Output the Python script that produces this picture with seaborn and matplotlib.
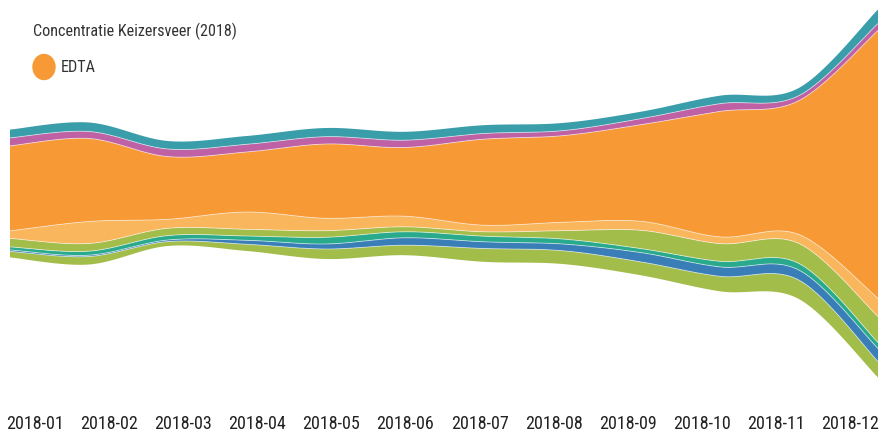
import numpy as np
import matplotlib
matplotlib.use("Agg")
import matplotlib.pyplot as plt
from matplotlib.patches import Ellipse
import seaborn as sns

sns.set_style("white")
plt.rcParams["font.family"] = ["Roboto Condensed", "Liberation Sans Narrow", "Roboto", "DejaVu Sans"]

# data (arbitrary units), bottom layer first
months = ["2018-01", "2018-02", "2018-03", "2018-04", "2018-05", "2018-06",
          "2018-07", "2018-08", "2018-09", "2018-10", "2018-11", "2018-12"]
green_low = [6, 8, 4.4, 6.7, 10, 10, 13.3, 13.3, 13.4, 15, 19, 16]
blue = [1.5, 1.3, 1.6, 4, 5, 7.4, 6.7, 6.7, 9.3, 9.4, 10, 13]
teal_green = [3, 4, 4.4, 4.3, 6.7, 6, 5.6, 5, 4, 5.6, 6.6, 6]
green = [8.5, 7.7, 7.3, 6.7, 6.6, 5, 4.4, 8.3, 18.3, 17.7, 20, 26]
light_orange = [7.5, 22, 9, 17.3, 12.4, 10.6, 6.6, 8.4, 9, 6.7, 9, 18]
edta = [85, 83, 62.7, 60, 74.3, 68.7, 86, 86.6, 96.7, 125.6, 134, 268]
magenta = [8, 7, 7.6, 7.7, 7.3, 7.3, 5.7, 5, 6, 7.7, 5, 7]
teal = [8.3, 9, 8, 8.3, 8.7, 8.4, 8.3, 7.7, 7, 8, 7.7, 14]

layers = [green_low, blue, teal_green, green, light_orange, edta, magenta, teal]
colors = ["#a3bd4b", "#3a7eb8", "#2aaa8d", "#a3bd4b", "#f9b65c", "#f79a36", "#bf62a5", "#3a9daa"]


def cardinal(px, py, n=40):
    # cardinal spline, tension 0 (end points repeated), like d3.curveCardinal
    px = np.r_[px[0], px, px[-1]]
    py = np.r_[py[0], py, py[-1]]
    u = np.linspace(0, 1, n)[:, None]
    h00 = 2 * u**3 - 3 * u**2 + 1
    h10 = u**3 - 2 * u**2 + u
    h01 = -2 * u**3 + 3 * u**2
    h11 = u**3 - u**2
    xs, ys = [], []
    for i in range(1, len(px) - 2):
        p = np.array([[px[i], py[i]], [px[i + 1], py[i + 1]]])
        m0 = (np.array([px[i + 1], py[i + 1]]) - np.array([px[i - 1], py[i - 1]])) / 2
        m1 = (np.array([px[i + 2], py[i + 2]]) - np.array([px[i], py[i]])) / 2
        seg = h00 * p[0] + h10 * m0 + h01 * p[1] + h11 * m1
        xs.append(seg[:, 0])
        ys.append(seg[:, 1])
    return np.concatenate(xs), np.concatenate(ys)


x = np.arange(len(months), dtype=float)
vals = np.array(layers, float)
total = vals.sum(axis=0)
base = -total / 2  # silhouette offset, like a streamgraph
bounds = np.vstack([base, base + np.cumsum(vals, axis=0)])
curves = [cardinal(x, b) for b in bounds]

fig = plt.figure(figsize=(8.82, 4.35), dpi=100)
ax = fig.add_axes([10 / 882, 35 / 435, 868 / 882, 400 / 435])

for i, c in enumerate(colors):
    lx, ly = curves[i]
    ux, uy = curves[i + 1]
    ax.fill(np.r_[ux, lx[::-1]], np.r_[uy, ly[::-1]], color=c, lw=0)
for cx, cy in curves[1:-1]:
    ax.plot(cx, cy, color="white", lw=0.6, alpha=0.6)

ax.set_xlim(0, len(months) - 1)
ax.set_ylim(-205.5, 194.5)
ax.set_yticks([])
tick_pos = np.linspace(0.317, 10.646, len(months))
ax.set_xticks(tick_pos)
ax.set_xticklabels(months, fontsize=13, color="#222222")
ax.tick_params(axis="x", length=0, pad=11)
for s in ax.spines.values():
    s.set_visible(False)

fig.text(33 / 882, 1 - 31 / 435, "Concentratie Keizersveer (2018)", fontsize=11.6,
         color="#333333", va="center", ha="left")
fig.add_artist(Ellipse((44 / 882, 1 - 68 / 435), 22 / 882, 25 / 435,
                       transform=fig.transFigure, color="#f79a36"))
fig.text(61 / 882, 1 - 68 / 435, "EDTA", fontsize=11.6, color="#333333", va="center", ha="left")

fig.savefig("out.png", dpi=100)
